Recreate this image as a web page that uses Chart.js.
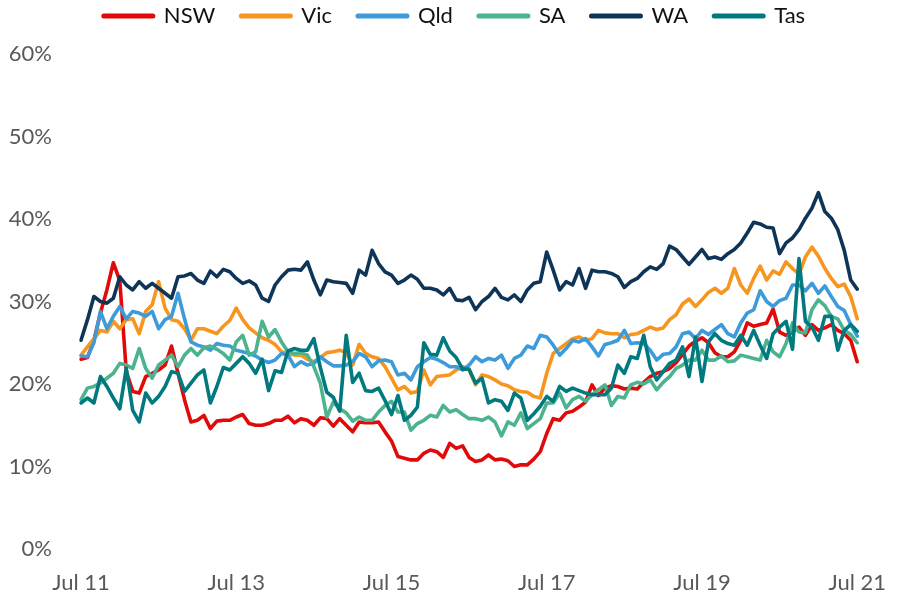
<!DOCTYPE html>
<html>
<head>
<meta charset="utf-8">
<script src="https://cdn.jsdelivr.net/npm/chart.js@4/dist/chart.umd.min.js"></script>
<style>
  html, body { margin: 0; padding: 0; background: #ffffff; }
  #wrap { width: 907px; height: 597px; position: relative; }
</style>
</head>
<body>
<div id="wrap"><canvas id="chart"></canvas></div>
<script>
// Monthly series, Jul 2011 – Jul 2021 (per cent)
const monthNames = ['Jan','Feb','Mar','Apr','May','Jun','Jul','Aug','Sep','Oct','Nov','Dec'];
const categories = [];
for (let i = 0; i <= 120; i++) {
  const k = 6 + i;
  categories.push(monthNames[k % 12] + ' ' + String(11 + Math.floor(k / 12)).padStart(2, '0'));
}
const tickEvery = 24;
const yTicks = [0, 10, 20, 30, 40, 50, 60];

const nsw = [
  23.0, 23.2, 25.3, 28.6, 31.4, 34.7, 32.5, 21.5, 19.1, 18.9,
  20.9, 21.3, 21.7, 22.3, 24.6, 21.3, 18.1, 15.4, 15.6, 16.2,
  14.6, 15.5, 15.6, 15.6, 16.0, 16.3, 15.2, 15.0, 15.0, 15.2,
  15.6, 15.6, 16.1, 15.3, 15.8, 15.6, 15.0, 15.9, 15.8, 14.9,
  15.8, 15.0, 14.2, 15.4, 15.3, 15.3, 15.4, 14.2, 13.1, 11.2,
  11.0, 10.8, 10.8, 11.6, 12.0, 11.8, 11.1, 12.8, 12.2, 12.5,
  11.1, 10.6, 10.8, 11.4, 10.8, 10.9, 10.7, 10.0, 10.2, 10.2,
  10.9, 11.8, 14.0, 15.8, 15.6, 16.5, 16.7, 17.2, 17.8, 19.9,
  18.6, 19.5, 19.8, 19.7, 19.4, 19.5, 19.4, 20.2, 20.9, 21.3,
  21.5, 21.9, 22.6, 23.6, 24.6, 25.2, 25.6, 25.0, 23.8, 23.3,
  23.3, 23.9, 25.3, 27.4, 27.0, 27.2, 27.4, 29.1, 26.3, 25.9,
  26.3, 26.9, 25.9, 27.2, 26.5, 26.8, 27.2, 26.5, 26.1, 25.3,
  22.7
];
const vic = [
  23.5, 24.5, 25.5, 26.5, 26.3, 27.6, 26.7, 27.8, 27.9, 26.1,
  28.8, 29.6, 32.4, 29.2, 27.8, 27.6, 26.7, 25.3, 26.7, 26.7,
  26.4, 26.1, 27.0, 27.7, 29.2, 27.8, 26.8, 26.2, 25.6, 25.3,
  24.8, 23.9, 23.7, 23.5, 23.5, 23.0, 22.7, 23.2, 23.8, 23.9,
  24.1, 23.8, 22.3, 24.8, 23.7, 23.3, 23.1, 22.1, 20.7, 19.3,
  19.7, 18.9, 19.1, 21.7, 19.9, 20.9, 21.0, 21.1, 21.7, 22.1,
  21.7, 19.9, 21.1, 20.9, 20.5, 20.0, 19.8, 19.3, 19.1, 19.0,
  18.5, 18.3, 21.3, 23.7, 24.3, 24.9, 25.5, 25.7, 25.3, 25.5,
  26.5, 26.2, 26.1, 26.1, 25.6, 26.0, 26.1, 26.5, 26.9, 26.6,
  26.8, 27.8, 28.4, 29.7, 30.3, 29.4, 30.2, 31.1, 31.6, 31.0,
  31.6, 34.0, 32.0, 31.0, 32.8, 34.3, 32.6, 33.7, 33.3, 34.8,
  34.0, 33.3, 35.4, 36.6, 35.5, 34.0, 32.8, 31.8, 32.1, 30.6,
  27.9
];
const qld = [
  23.4, 23.3, 25.0, 28.8, 26.7, 28.2, 29.4, 27.9, 28.8, 28.6,
  28.2, 28.8, 26.7, 27.8, 28.2, 31.0, 27.9, 25.1, 24.7, 24.5,
  24.1, 24.9, 24.7, 24.6, 24.1, 23.9, 23.7, 23.4, 22.9, 22.6,
  22.9, 23.7, 23.5, 22.1, 22.7, 22.3, 22.5, 23.3, 22.7, 22.2,
  22.2, 22.3, 22.7, 23.7, 23.3, 22.1, 22.8, 22.9, 22.7, 21.1,
  21.3, 20.5, 22.1, 22.7, 23.2, 23.0, 22.6, 22.1, 22.1, 21.7,
  22.3, 23.3, 22.7, 23.1, 22.9, 23.5, 21.9, 23.1, 23.5, 24.6,
  24.3, 25.9, 25.7, 24.7, 23.5, 24.3, 25.3, 25.1, 25.5, 24.5,
  23.4, 24.8, 25.0, 25.3, 26.5, 24.9, 25.0, 24.9, 24.1, 22.9,
  23.6, 23.7, 24.5, 26.1, 26.3, 25.5, 26.5, 26.0, 26.6, 27.2,
  26.1, 25.7, 27.4, 28.6, 29.0, 31.3, 30.0, 29.4, 30.1, 30.4,
  32.0, 32.0, 31.3, 32.2, 31.0, 31.9, 30.6, 29.4, 28.9, 27.2,
  25.8
];
const sa = [
  18.1, 19.5, 19.7, 20.1, 20.7, 21.3, 22.5, 22.3, 21.9, 24.3,
  21.9, 20.7, 22.3, 22.9, 23.5, 22.1, 23.5, 24.3, 23.5, 24.4,
  24.6, 24.2, 23.7, 22.9, 25.1, 25.9, 23.5, 23.9, 27.6, 25.7,
  26.6, 25.1, 23.9, 23.7, 23.8, 23.5, 22.1, 20.1, 16.0, 17.8,
  17.0, 16.5, 15.5, 16.0, 15.6, 15.6, 16.6, 17.4, 17.9, 16.6,
  16.6, 14.4, 15.2, 15.6, 16.2, 16.0, 17.4, 16.6, 16.9, 16.3,
  15.8, 15.8, 15.6, 16.0, 15.4, 13.7, 15.4, 15.0, 16.5, 14.6,
  15.2, 15.8, 17.7, 17.7, 18.9, 17.1, 18.1, 18.5, 17.9, 18.7,
  19.3, 19.9, 17.4, 18.5, 18.3, 19.9, 20.2, 20.0, 20.5, 19.3,
  20.2, 20.9, 21.9, 22.3, 22.9, 22.9, 24.1, 22.9, 22.9, 23.4,
  22.7, 22.8, 23.5, 23.3, 23.1, 22.9, 25.3, 23.9, 23.3, 24.9,
  27.4, 26.3, 26.2, 29.0, 30.2, 29.5, 28.2, 27.9, 26.5, 26.0,
  25.0
];
const wa = [
  25.3, 27.8, 30.6, 30.0, 29.8, 30.4, 33.0, 32.0, 31.4, 32.4,
  31.6, 32.2, 31.6, 31.0, 30.4, 33.0, 33.1, 33.4, 32.6, 32.2,
  33.7, 33.0, 33.9, 33.6, 32.8, 32.2, 32.5, 32.0, 30.4, 30.0,
  32.0, 33.0, 33.8, 33.9, 33.8, 34.8, 32.6, 30.8, 32.6, 32.4,
  32.3, 32.2, 31.0, 33.8, 33.2, 36.2, 34.6, 33.6, 33.2, 32.2,
  32.6, 33.2, 32.7, 31.6, 31.6, 31.4, 30.8, 31.6, 30.2, 30.1,
  30.5, 29.0, 30.0, 30.6, 31.6, 30.5, 30.2, 30.8, 30.0, 31.4,
  32.2, 32.4, 36.0, 33.8, 31.4, 32.4, 32.0, 34.0, 31.6, 33.8,
  33.6, 33.6, 33.4, 33.0, 31.7, 32.4, 32.8, 33.6, 34.2, 33.9,
  34.6, 36.7, 36.3, 35.4, 34.5, 35.4, 36.3, 35.2, 35.4, 35.1,
  35.8, 36.3, 37.1, 38.3, 39.6, 39.4, 39.0, 38.9, 35.8, 37.1,
  37.7, 38.7, 40.1, 41.3, 43.2, 40.9, 40.1, 38.7, 36.2, 32.6,
  31.5
];
const tas = [
  17.7, 18.3, 17.7, 20.9, 19.7, 18.3, 17.0, 21.9, 16.8, 15.4,
  18.9, 17.7, 18.5, 19.7, 21.5, 21.3, 19.1, 20.1, 21.1, 21.7,
  17.7, 19.7, 22.0, 21.7, 22.5, 23.3, 22.5, 21.3, 23.0, 19.2,
  21.6, 21.4, 24.0, 24.3, 24.1, 24.1, 25.5, 22.0, 19.0, 18.4,
  16.7, 25.9, 20.2, 21.3, 19.2, 19.1, 19.5, 18.0, 16.3, 18.6,
  15.6, 16.2, 17.2, 25.0, 23.6, 23.5, 25.6, 24.0, 23.2, 21.8,
  21.8, 20.1, 20.7, 17.7, 18.1, 17.9, 16.8, 18.9, 18.3, 15.6,
  16.4, 17.3, 18.5, 17.9, 19.7, 19.1, 19.5, 19.2, 18.9, 18.7,
  18.7, 18.7, 19.5, 22.3, 21.3, 23.3, 23.1, 25.9, 22.1, 20.5,
  21.5, 22.5, 22.9, 24.5, 20.9, 25.7, 20.3, 25.1, 26.1, 25.3,
  24.9, 24.7, 25.9, 24.7, 26.5, 24.7, 23.1, 26.1, 26.9, 27.6,
  24.2, 35.2, 27.6, 26.9, 25.3, 28.2, 28.2, 24.1, 26.5, 27.2,
  26.4
];

const seriesNames = ['NSW', 'Vic', 'Qld', 'SA', 'WA', 'Tas'];
const seriesColors = ['#E10A0A', '#F7961F', '#3D9BDA', '#4CB38F', '#0E3558', '#00797F'];
const seriesData = [nsw, vic, qld, sa, wa, tas];

const FONT = "Lato, 'Open Sans', sans-serif";

// legend: fixed band height, items drawn close to the top edge
const legendLayout = {
  id: 'legendLayout',
  beforeInit(chart) {
    const legend = chart.legend;
    const fit = legend.fit;
    legend.fit = function () { fit.call(this); this.height = 54; };
  },
  afterLayout(chart) {
    const lg = chart.legend;
    lg.top -= 21;
    lg.bottom -= 21;
    lg.left += 16;
    lg.right += 16;
  }
};

new Chart(document.getElementById('chart'), {
  type: 'line',
  data: {
    labels: categories,
    datasets: seriesNames.map((name, i) => ({
      label: name,
      data: seriesData[i],
      borderColor: seriesColors[i],
      backgroundColor: seriesColors[i],
      borderWidth: 3.6,
      pointRadius: 0,
      pointStyle: 'line',
      tension: 0,
      borderCapStyle: 'round',
      borderJoinStyle: 'round',
      order: seriesNames.length - 1 - i
    }))
  },
  options: {
    responsive: true,
    maintainAspectRatio: false,
    animation: false,
    layout: { padding: { left: 0, right: 30, top: 0, bottom: 0 } },
    plugins: {
      tooltip: { enabled: false },
      legend: {
        position: 'top',
        labels: {
          color: '#111111',
          font: { family: FONT, size: 22 },
          usePointStyle: true,
          pointStyleWidth: 49,
          boxHeight: 5,
          padding: 26,
          sort: (a, b) => a.datasetIndex - b.datasetIndex,
          generateLabels(chart) {
            const items = Chart.defaults.plugins.legend.labels.generateLabels(chart);
            items.forEach(it => {
              it.pointStyle = 'line';
              it.lineWidth = 5;
              it.lineCap = 'round';
              it.strokeStyle = seriesColors[it.datasetIndex];
            });
            return items;
          }
        }
      }
    },
    scales: {
      x: {
        type: 'category',
        offset: false,
        grid: { display: false, drawTicks: false },
        border: { display: false },
        ticks: {
          autoSkip: false,
          maxRotation: 0,
          minRotation: 0,
          padding: 21,
          color: '#595959',
          font: { family: FONT, size: 22 },
          callback(value, index) {
            return index % tickEvery === 0 ? this.getLabelForValue(value) : '';
          }
        },
        afterFit(scale) { scale.height = 48; }
      },
      y: {
        min: yTicks[0],
        max: yTicks[yTicks.length - 1],
        grid: { display: false, drawTicks: false },
        border: { display: false },
        afterBuildTicks(scale) { scale.ticks = yTicks.map(v => ({ value: v })); },
        ticks: {
          padding: 29,
          color: '#595959',
          font: { family: FONT, size: 22 },
          callback: v => v + '%'
        },
        afterFit(scale) { scale.width = 81; }
      }
    }
  },
  plugins: [legendLayout]
});
</script>
</body>
</html>
